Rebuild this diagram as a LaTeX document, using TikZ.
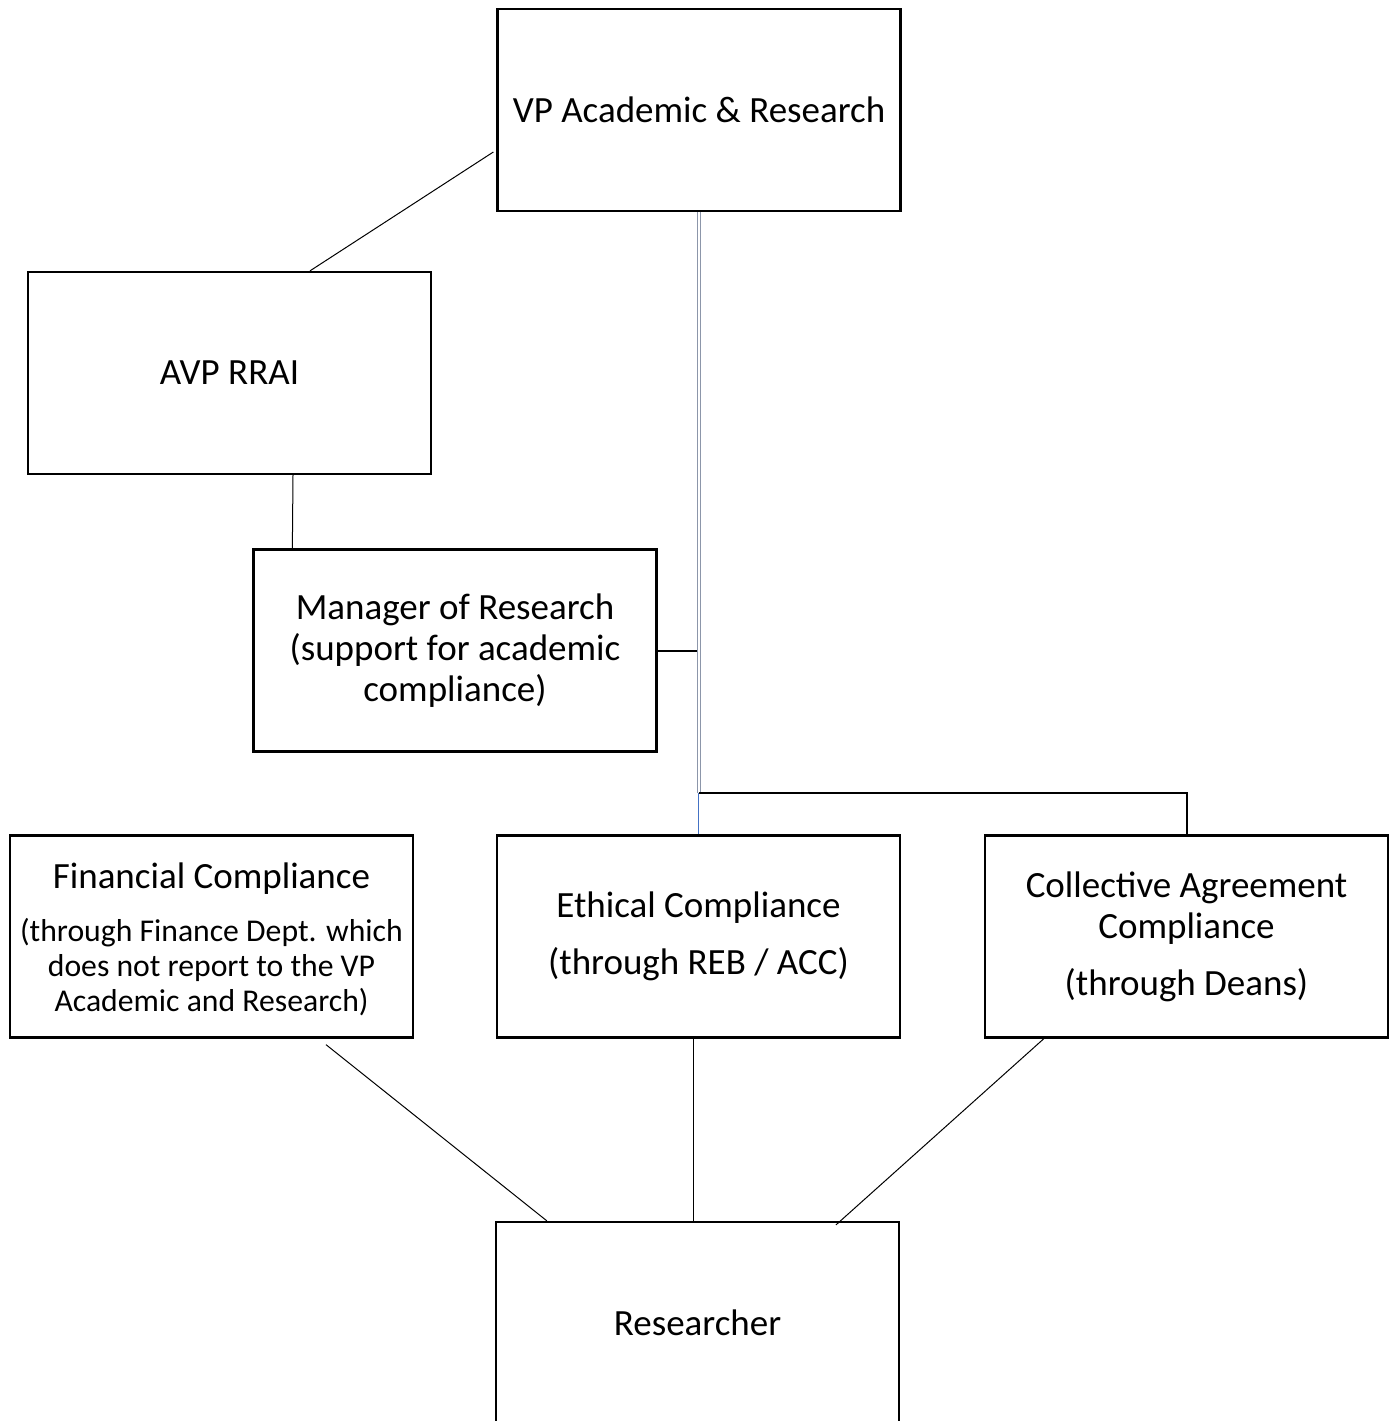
\documentclass[tikz,border=0pt]{standalone}
\usepackage{fontspec}
\setmainfont{Carlito}
\usetikzlibrary{calc}
\definecolor{dblgrey}{RGB}{140,150,170}
\definecolor{linkblue}{RGB}{68,114,196}
\begin{document}
\begin{tikzpicture}[x=1pt,y=-1pt,
  box/.style={draw, line width=2.3pt, minimum width=403pt, minimum height=202pt, inner sep=0pt, align=center, font=\fontsize{37}{41}\selectfont},
  bigtxt/.style={align=center, inner sep=0pt, font=\fontsize{37}{41}\selectfont},
  smalltxt/.style={align=center, inner sep=0pt, font=\fontsize{31.7}{35}\selectfont},
  thinline/.style={line width=1pt},
  thickline/.style={line width=2pt},
  dblline/.style={draw=dblgrey, double=white, double distance=2.4pt, line width=0.9pt},
  blueline/.style={draw=linkblue, line width=1.8pt}]
\useasboundingbox (0,0) rectangle (1396,1421);

\node[box] (vp)  at (699,110)    {VP Academic \& Research};
\node[box] (avp) at (229.5,373)  {AVP RRAI};
\node[box] (mgr) at (455,650.5)  {Manager of Research\\(support for academic\\compliance)};
\node[box] (fin) at (211.5,936.5) {};
\node[bigtxt] (fint) at (211.5,878.5) {Financial Compliance};
\node[smalltxt] (fins) at (211.5,967) {(through Finance Dept. which\\does not report to the VP\\Academic and Research)};
\node[box] (eth) at (698.5,936.5) {Ethical Compliance\\[16pt](through REB / ACC)};
\node[box] (col) at (1186.5,936.5) {Collective Agreement\\Compliance\\[16pt](through Deans)};
\node[box] (res) at (697.5,1323) {Researcher};

\coordinate (j) at ($(eth.north)+(0,-41)$);

\draw[thinline] ($(vp.west)+(-3,42)$) -- ($(avp.north)+(80.5,0)$);
\draw[thinline] ($(avp.south)+(63.5,0)$) -- ($(mgr.north west)+(40,0)$);
\draw[dblline] (vp.south) -- (vp.south |- j);
\draw[blueline] (j) -- (eth.north);
\draw[thickline] (mgr.east) -- ($(mgr.east -| j)+(-1.5,0)$);
\draw[thickline] (j) -| (col.north);
\draw[thinline] ($(fin.south)+(114.5,6)$) -- ($(res.north west)+(52,0)$);
\draw[thinline] ($(eth.south)+(-5.5,0)$) -- ($(res.north)+(-4.5,0)$);
\draw[thinline] ($(col.south west)+(60,0)$) -- ($(res.north)+(138.5,4)$);
\end{tikzpicture}
\end{document}
